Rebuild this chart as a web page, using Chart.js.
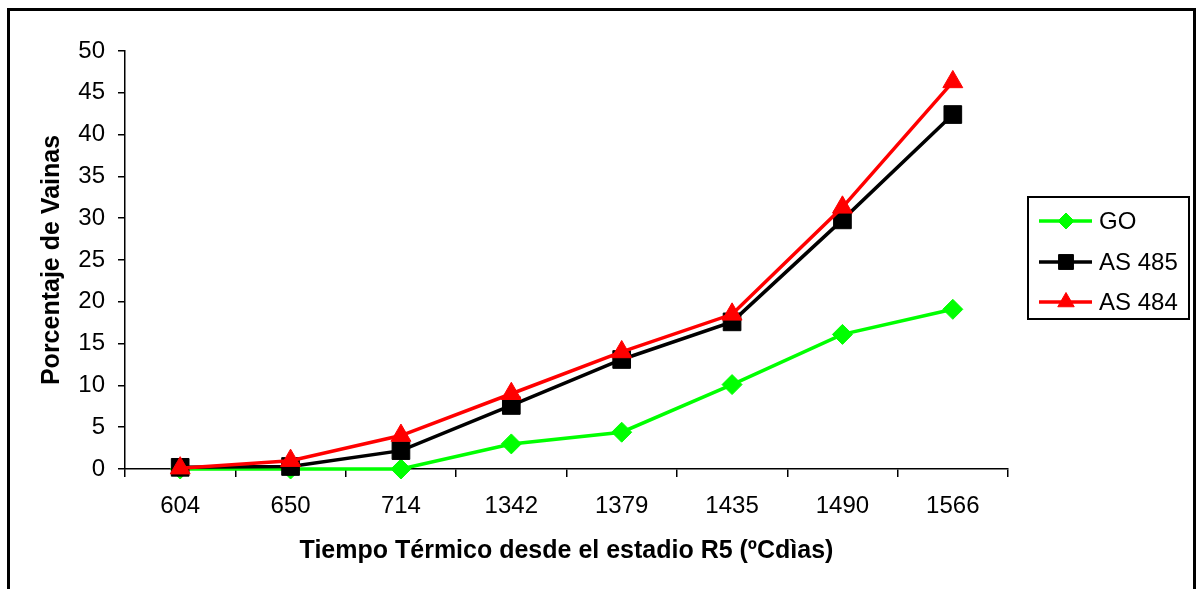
<!DOCTYPE html>
<html>
<head>
<meta charset="utf-8">
<script src="https://cdn.jsdelivr.net/npm/chart.js@4/dist/chart.umd.min.js"></script>
<style>
  html, body { margin: 0; padding: 0; background: #fff; overflow: hidden; }
  #wrap { position: relative; width: 1197px; height: 589px; }
  #frame { position: absolute; left: 7px; top: 8px; width: 1189px; height: 600px; border: 3px solid #000; box-sizing: border-box; pointer-events: none; }
</style>
</head>
<body>
<div id="wrap">
  <canvas id="chart" width="1197" height="589"></canvas>
  <div id="frame"></div>
</div>
<script>
// Values
const categories = ['604', '650', '714', '1342', '1379', '1435', '1490', '1566'];
const goValues = [0, 0, 0, 3.0, 4.4, 10.1, 16.1, 19.1];
const as485Values = [0.2, 0.3, 2.2, 7.6, 13.1, 17.6, 29.8, 42.4];
const as484Values = [0.1, 1.0, 4.0, 9.0, 14.0, 18.5, 31.3, 46.3];
const yMin = 0;
const yMax = 50;
const yStep = 5;

const FONT = 'Liberation Sans, Arial, sans-serif';

const legendItems = [
    { text: 'GO', color: '#00ff00', style: 'rectRot', radius: 8 },
    { text: 'AS 485', color: '#000000', style: 'rect', radius: 10.5 },
    { text: 'AS 484', color: '#ff0000', style: 'triangle', radius: 9.5 }
];

// legend box drawn in the Excel way: line + marker + label
const boxLegend = {
    id: 'boxLegend',
    afterDraw(chart) {
        const ctx = chart.ctx;
        ctx.save();
        ctx.lineWidth = 2;
        ctx.strokeStyle = '#000';
        ctx.strokeRect(1028, 197, 161, 122);
        const rows = [221, 262, 302];
        legendItems.forEach((item, i) => {
            const y = rows[i];
            ctx.beginPath();
            ctx.lineWidth = 3.5;
            ctx.strokeStyle = item.color;
            ctx.moveTo(1039, y);
            ctx.lineTo(1092, y);
            ctx.stroke();
            ctx.fillStyle = item.color;
            ctx.strokeStyle = item.color;
            ctx.lineWidth = 1;
            Chart.helpers.drawPoint(ctx, { pointStyle: item.style, radius: item.radius, borderWidth: 1 }, 1066, y);
            ctx.fillStyle = '#000';
            ctx.font = '24px ' + FONT;
            ctx.textBaseline = 'middle';
            ctx.textAlign = 'left';
            ctx.fillText(item.text, 1099, y + 1);
        });
        ctx.restore();
    }
};

function series(label, data, color, style, radius, order) {
    return {
        label: label,
        data: data,
        borderColor: color,
        backgroundColor: color,
        borderWidth: 3.5,
        pointStyle: style,
        pointRadius: radius,
        pointHoverRadius: radius,
        pointBorderWidth: 1,
        tension: 0,
        clip: false,
        order: order
    };
}

const ctx = document.getElementById('chart').getContext('2d');
new Chart(ctx, {
    type: 'line',
    data: {
        labels: categories,
        datasets: [
            series('GO', goValues, '#00ff00', 'rectRot', 10, 3),
            series('AS 485', as485Values, '#000000', 'rect', 12.5, 2),
            series('AS 484', as484Values, '#ff0000', 'triangle', 11.5, 1)
        ]
    },
    options: {
        responsive: false,
        animation: false,
        devicePixelRatio: 1,
        layout: { padding: { left: 0, top: 51, right: 189, bottom: 0 } },
        plugins: {
            legend: { display: false },
            tooltip: { enabled: false }
        },
        scales: {
            x: {
                offset: true,
                afterFit: (scale) => { scale.height = 120; },
                border: { display: true, color: '#000', width: 1.5 },
                grid: {
                    offset: true,
                    drawOnChartArea: false,
                    drawTicks: true,
                    tickLength: 8,
                    color: '#000',
                    lineWidth: 1.5
                },
                ticks: {
                    color: '#000',
                    padding: 15,
                    maxRotation: 0,
                    font: { family: FONT, size: 24 }
                },
                title: {
                    display: true,
                    text: 'Tiempo Térmico desde el estadio R5 (ºCdìas)',
                    color: '#000',
                    font: { family: FONT, size: 25, weight: 'bold' },
                    padding: { top: 0, bottom: 23 }
                }
            },
            y: {
                min: yMin,
                max: yMax,
                afterFit: (scale) => { scale.width = 125; },
                border: { display: true, color: '#000', width: 1.5 },
                grid: {
                    drawOnChartArea: false,
                    drawTicks: true,
                    tickLength: 7,
                    color: '#000',
                    lineWidth: 1.5
                },
                ticks: {
                    stepSize: yStep,
                    color: '#000',
                    padding: 13,
                    font: { family: FONT, size: 24 }
                },
                title: {
                    display: true,
                    text: 'Porcentaje de Vainas',
                    color: '#000',
                    font: { family: FONT, size: 25, weight: 'bold' },
                    padding: { top: 37, bottom: 0 }
                }
            }
        }
    },
    plugins: [boxLegend]
});
</script>
</body>
</html>
